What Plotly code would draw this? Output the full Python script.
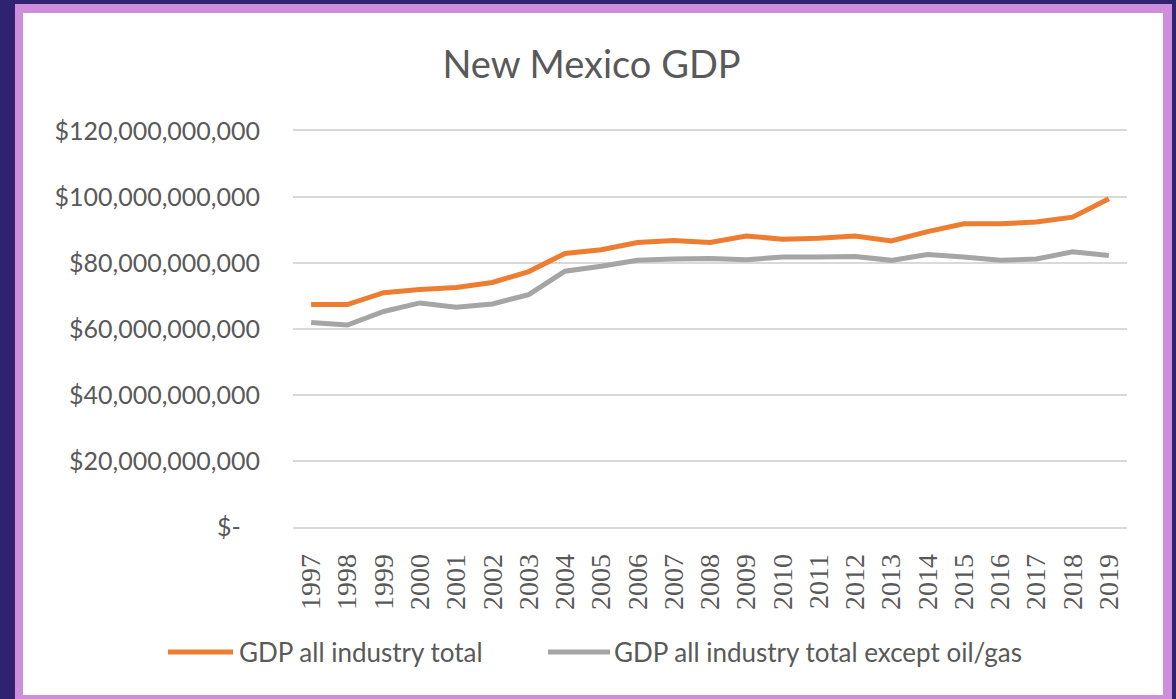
import plotly.graph_objects as go

years = [str(y) for y in range(1997, 2020)]
gdp_total = [67.4, 67.4, 71.0, 72.0, 72.6, 74.1, 77.4, 82.9, 84.0, 86.2, 86.8, 86.2,
             88.2, 87.2, 87.5, 88.2, 86.7, 89.5, 91.9, 91.9, 92.4, 93.9, 99.5]
gdp_ex_oilgas = [62.0, 61.2, 65.3, 67.9, 66.6, 67.6, 70.4, 77.5, 79.0, 80.8, 81.2, 81.4,
                 81.0, 81.8, 81.8, 82.0, 80.8, 82.6, 81.8, 80.8, 81.2, 83.4, 82.3]
gdp_total = [v * 1e9 for v in gdp_total]
gdp_ex_oilgas = [v * 1e9 for v in gdp_ex_oilgas]

series_names = ["GDP all industry total", "GDP all industry total except oil/gas"]
series_colors = ["#ED7D31", "#A5A5A5"]
ytick_vals = [0, 20e9, 40e9, 60e9, 80e9, 100e9, 120e9]
ytick_text = ["$-\u00a0\u00a0\u00a0", "$20,000,000,000", "$40,000,000,000", "$60,000,000,000",
              "$80,000,000,000", "$100,000,000,000", "$120,000,000,000"]

TXT = "#595959"
FONT = "Lato"
GRID = "#D9D9D9"

fig = go.Figure()
for name, vals, col in zip(series_names, [gdp_total, gdp_ex_oilgas], series_colors):
    fig.add_trace(go.Scatter(x=years, y=vals, mode="lines", name=name,
                             line=dict(color=col, width=5), showlegend=False))

# plot area in pixels: x 293..1127, y 131..527
def px(x):
    return (x - 293) / 834

def py(y):
    return (527 - y) / 396

shapes = [
    dict(type="rect", xref="paper", yref="paper", x0=px(15), x1=px(1172), y0=py(720), y1=py(4),
         fillcolor="#CF8EDB", line=dict(width=0), layer="below"),
    dict(type="rect", xref="paper", yref="paper", x0=px(23), x1=px(1163), y0=py(695), y1=py(13),
         fillcolor="#FFFFFF", line=dict(width=0), layer="below"),
]
annotations = []
legend_items = [(168, 233, 237), (548, 610, 612)]
for (lx0, lx1, tx), name, col in zip(legend_items, series_names, series_colors):
    shapes.append(dict(type="line", xref="paper", yref="paper", x0=px(lx0), x1=px(lx1),
                       y0=py(652), y1=py(652), line=dict(color=col, width=5)))
    annotations.append(dict(text=name, xref="paper", yref="paper", x=px(tx), y=py(652),
                            xanchor="left", yanchor="middle", showarrow=False,
                            font=dict(family=FONT, size=26, color=TXT)))

fig.update_layout(
    width=1176, height=699,
    margin=dict(l=293, r=49, t=131, b=172),
    paper_bgcolor="#2F2270",
    plot_bgcolor="rgba(0,0,0,0)",
    title=dict(text="New Mexico GDP", x=0.503, xref="container", xanchor="center",
               y=1 - 65 / 699, yref="container", yanchor="middle",
               font=dict(family=FONT, size=38, color=TXT)),
    shapes=shapes,
    annotations=annotations,
    xaxis=dict(type="category", range=[-0.5, 22.5], showgrid=False, zeroline=False,
               showline=True, mirror=True, linecolor=GRID, linewidth=1.5,
               ticks="", tickangle=-90, ticklabelstandoff=14,
               tickfont=dict(family="Liberation Serif", size=28, color=TXT)),
    yaxis=dict(range=[0, 120e9], tickvals=ytick_vals, ticktext=ytick_text,
               showgrid=True, gridcolor=GRID, gridwidth=1.5, zeroline=False,
               showline=False, ticks="", ticklabelstandoff=32,
               tickfont=dict(family=FONT, size=25, color=TXT)),
    showlegend=False,
)

fig.write_html("out.html")
